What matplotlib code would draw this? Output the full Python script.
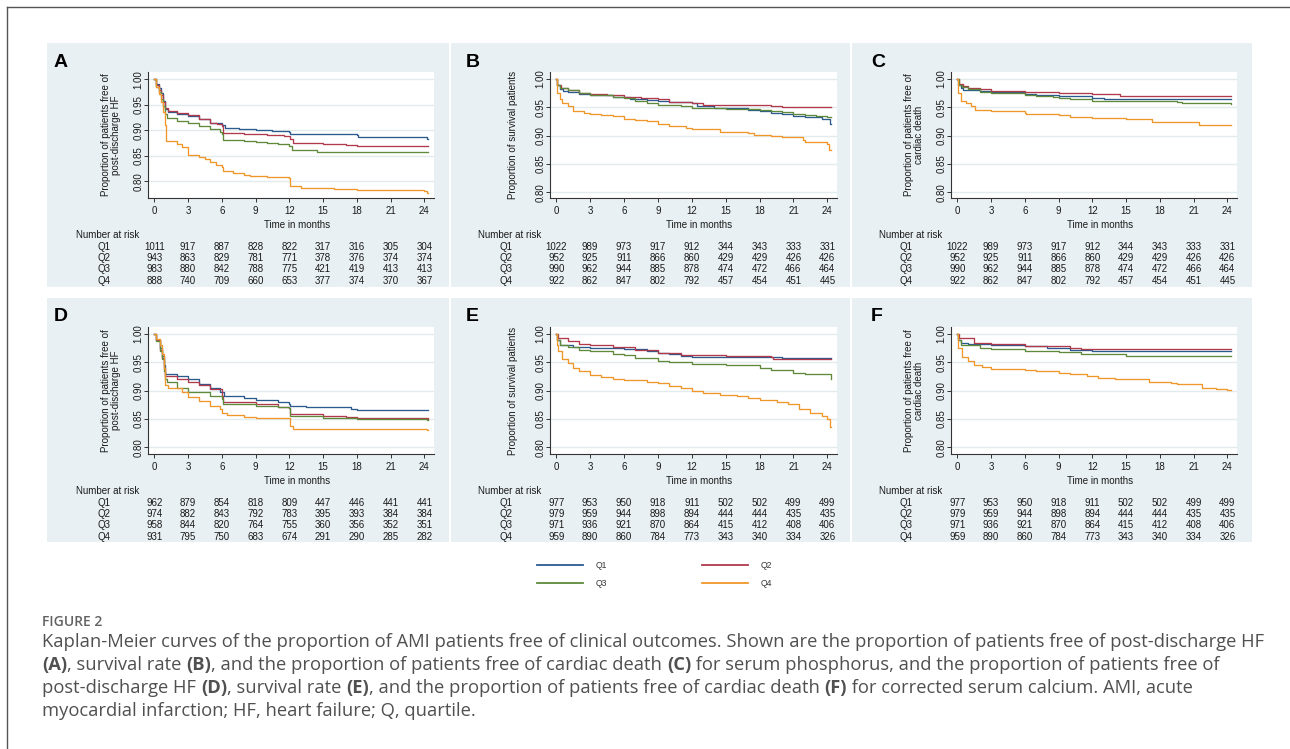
import matplotlib
matplotlib.use("Agg")
import matplotlib.pyplot as plt
from matplotlib import transforms as mtransforms, font_manager
from matplotlib.patches import Rectangle
from matplotlib.lines import Line2D

# ---------------- data ----------------
XTICKS = [0, 3, 6, 9, 12, 15, 18, 21, 24]
YTICKS = [0.80, 0.85, 0.90, 0.95, 1.00]
QUARTILES = ["Q1", "Q2", "Q3", "Q4"]
COLORS = ["#2b5a8e", "#b03a4c", "#5f8a3c", "#f0962a"]

# (months, proportion after step)
A_Q1 = [(0, 1.0), (0.2, 0.99), (0.4, 0.982), (0.6, 0.972), (0.8, 0.958), (1.0, 0.942), (1.2, 0.935), (2.0, 0.932),
        (3.0, 0.928), (4.0, 0.921), (5.0, 0.915), (6.0, 0.910), (6.3, 0.905), (7.5, 0.903), (9.0, 0.900),
        (10.5, 0.898), (12.0, 0.896), (12.1, 0.892), (18.0, 0.891), (18.1, 0.887), (24.0, 0.886), (24.2, 0.883),
        (24.3, 0.883)]
A_Q2 = [(0, 1.0), (0.2, 0.988), (0.4, 0.978), (0.6, 0.968), (0.8, 0.955), (1.0, 0.943), (1.2, 0.938), (2.0, 0.934),
        (3.0, 0.929), (4.0, 0.922), (5.0, 0.915), (5.6, 0.912), (6.0, 0.909), (6.1, 0.894), (8.0, 0.892),
        (10.0, 0.891), (11.5, 0.888), (12.1, 0.882), (12.3, 0.874), (15.0, 0.873), (17.0, 0.870), (18.0, 0.868),
        (24.3, 0.868)]
A_Q3 = [(0, 1.0), (0.2, 0.985), (0.4, 0.975), (0.6, 0.962), (0.8, 0.948), (1.0, 0.932), (1.1, 0.923), (2.0, 0.918),
        (3.0, 0.914), (4.0, 0.909), (5.0, 0.903), (5.8, 0.897), (6.0, 0.893), (6.1, 0.881), (8.0, 0.879),
        (9.0, 0.877), (10.0, 0.875), (11.0, 0.872), (12.0, 0.869), (12.2, 0.862), (14.5, 0.858), (24.3, 0.858)]
A_Q4 = [(0, 1.0), (0.2, 0.985), (0.4, 0.97), (0.6, 0.955), (0.8, 0.935), (0.95, 0.91), (1.05, 0.878), (2.0, 0.873),
        (2.5, 0.867), (3.0, 0.852), (4.0, 0.847), (4.5, 0.843), (5.0, 0.837), (5.5, 0.832), (6.0, 0.828),
        (6.1, 0.820), (7.0, 0.816), (8.0, 0.812), (8.5, 0.810), (10.0, 0.809), (11.0, 0.808), (12.0, 0.807),
        (12.1, 0.790), (13.0, 0.787), (15.0, 0.786), (16.0, 0.785), (18.0, 0.782), (24.0, 0.780), (24.2, 0.777),
        (24.3, 0.777)]

B_Q1 = [(0, 1.0), (0.1, 0.99), (0.3, 0.983), (0.6, 0.979), (1.0, 0.977), (2.0, 0.973), (3.0, 0.971), (5.0, 0.968),
        (6.5, 0.965), (8.0, 0.963), (9.0, 0.962), (10.0, 0.960), (12.0, 0.957), (12.5, 0.953), (14.0, 0.949),
        (15.0, 0.948), (17.0, 0.946), (18.0, 0.944), (19.0, 0.940), (20.0, 0.938), (21.0, 0.935), (22.0, 0.933),
        (23.5, 0.930), (24.2, 0.920), (24.3, 0.920)]
B_Q2 = [(0, 1.0), (0.1, 0.99), (0.4, 0.984), (1.0, 0.980), (2.0, 0.975), (3.0, 0.973), (4.5, 0.971), (6.0, 0.969),
        (7.5, 0.967), (9.0, 0.964), (10.0, 0.960), (12.0, 0.958), (13.0, 0.955), (17.0, 0.954), (19.0, 0.952),
        (20.0, 0.951), (21.0, 0.950), (24.3, 0.950)]
B_Q3 = [(0, 1.0), (0.1, 0.99), (0.3, 0.985), (1.0, 0.981), (2.0, 0.976), (3.0, 0.972), (5.0, 0.968), (6.0, 0.966),
        (7.0, 0.962), (8.0, 0.958), (9.0, 0.955), (10.0, 0.954), (11.0, 0.952), (12.0, 0.949), (15.0, 0.947),
        (18.0, 0.946), (19.0, 0.943), (20.0, 0.941), (21.0, 0.938), (22.0, 0.937), (23.0, 0.935), (24.0, 0.933),
        (24.3, 0.933)]
B_Q4 = [(0, 1.0), (0.1, 0.975), (0.3, 0.965), (0.5, 0.958), (1.0, 0.953), (1.5, 0.944), (2.5, 0.940), (3.0, 0.938),
        (4.0, 0.936), (5.0, 0.934), (6.0, 0.929), (7.0, 0.928), (8.0, 0.926), (9.0, 0.920), (10.0, 0.917),
        (11.5, 0.914), (12.0, 0.911), (14.5, 0.907), (17.0, 0.905), (17.5, 0.902), (19.0, 0.900), (20.0, 0.898),
        (21.0, 0.897), (21.8, 0.893), (22.0, 0.889), (23.5, 0.888), (24.0, 0.885), (24.1, 0.875), (24.3, 0.875)]

C_Q1 = [(0, 1.0), (0.1, 0.99), (0.3, 0.985), (0.5, 0.981), (2.0, 0.979), (3.0, 0.977), (6.0, 0.974), (7.0, 0.972),
        (9.0, 0.970), (12.0, 0.967), (13.0, 0.965), (24.3, 0.965)]
C_Q2 = [(0, 1.0), (0.2, 0.992), (0.5, 0.988), (1.0, 0.985), (2.0, 0.982), (3.0, 0.979), (4.0, 0.978), (6.0, 0.977),
        (9.0, 0.976), (10.0, 0.975), (12.0, 0.973), (14.5, 0.970), (24.3, 0.970)]
C_Q3 = [(0, 1.0), (0.2, 0.99), (0.4, 0.986), (1.0, 0.983), (2.0, 0.977), (3.0, 0.975), (6.0, 0.972), (7.0, 0.970),
        (8.5, 0.968), (9.0, 0.966), (10.0, 0.964), (12.0, 0.961), (19.5, 0.960), (20.0, 0.958), (24.0, 0.957),
        (24.3, 0.956)]
C_Q4 = [(0, 1.0), (0.1, 0.975), (0.3, 0.962), (0.8, 0.957), (1.2, 0.952), (1.6, 0.946), (3.0, 0.943), (6.0, 0.940),
        (6.1, 0.938), (9.0, 0.937), (10.0, 0.933), (12.0, 0.931), (15.0, 0.929), (17.3, 0.925), (21.0, 0.924),
        (21.5, 0.919), (24.3, 0.919)]

D_Q1 = [(0, 1.0), (0.2, 0.99), (0.5, 0.975), (0.7, 0.962), (0.9, 0.945), (1.0, 0.930), (2.0, 0.925), (3.0, 0.920),
        (4.0, 0.912), (5.0, 0.905), (5.8, 0.898), (6.2, 0.891), (8.0, 0.887), (9.0, 0.884), (11.0, 0.880),
        (12.0, 0.877), (12.1, 0.873), (13.5, 0.871), (17.5, 0.868), (18.0, 0.865), (24.3, 0.865)]
D_Q2 = [(0, 1.0), (0.2, 0.99), (0.5, 0.972), (0.7, 0.958), (0.9, 0.94), (1.0, 0.925), (2.0, 0.920), (3.0, 0.915),
        (4.0, 0.910), (5.0, 0.902), (6.0, 0.890), (6.1, 0.880), (9.0, 0.876), (11.0, 0.871), (12.0, 0.869),
        (12.1, 0.858), (15.0, 0.856), (17.0, 0.853), (18.0, 0.851), (24.3, 0.850)]
D_Q3 = [(0, 1.0), (0.2, 0.988), (0.5, 0.97), (0.7, 0.955), (0.9, 0.935), (1.0, 0.920), (1.1, 0.915), (2.0, 0.905),
        (3.0, 0.897), (5.0, 0.890), (6.0, 0.885), (6.1, 0.876), (9.0, 0.873), (11.0, 0.871), (12.0, 0.869),
        (12.1, 0.855), (15.0, 0.852), (18.0, 0.850), (24.0, 0.849), (24.2, 0.848), (24.3, 0.848)]
D_Q4 = [(0, 1.0), (0.2, 0.992), (0.5, 0.98), (0.7, 0.965), (0.9, 0.94), (1.0, 0.910), (1.2, 0.905), (2.5, 0.898),
        (3.0, 0.888), (4.0, 0.882), (5.0, 0.873), (5.8, 0.868), (6.0, 0.860), (6.5, 0.857), (8.0, 0.854),
        (9.0, 0.852), (12.0, 0.852), (12.1, 0.838), (12.3, 0.832), (24.0, 0.832), (24.2, 0.830), (24.3, 0.830)]

E_Q1 = [(0, 1.0), (0.1, 0.99), (0.3, 0.980), (1.5, 0.977), (3.0, 0.976), (6.0, 0.973), (8.0, 0.970), (9.0, 0.967),
        (10.0, 0.965), (11.0, 0.962), (12.0, 0.960), (19.0, 0.959), (20.0, 0.957), (24.3, 0.957)]
E_Q2 = [(0, 1.0), (0.2, 0.993), (1.0, 0.987), (2.0, 0.983), (3.0, 0.981), (5.0, 0.977), (7.0, 0.972), (9.0, 0.967),
        (11.0, 0.963), (15.0, 0.961), (19.0, 0.959), (19.2, 0.955), (24.3, 0.955)]
E_Q3 = [(0, 1.0), (0.1, 0.99), (0.3, 0.980), (1.0, 0.977), (2.0, 0.972), (3.0, 0.970), (5.0, 0.965), (6.0, 0.963),
        (7.0, 0.958), (9.0, 0.953), (10.0, 0.951), (12.0, 0.947), (15.0, 0.945), (18.0, 0.940), (19.0, 0.937),
        (20.0, 0.936), (21.0, 0.932), (22.0, 0.929), (24.2, 0.929), (24.3, 0.920)]
E_Q4 = [(0, 1.0), (0.1, 0.98), (0.2, 0.97), (0.5, 0.955), (1.0, 0.948), (1.5, 0.940), (2.0, 0.935), (3.0, 0.928),
        (4.0, 0.924), (5.0, 0.920), (6.0, 0.918), (8.0, 0.916), (9.0, 0.913), (10.0, 0.909), (11.0, 0.905),
        (12.0, 0.900), (13.0, 0.896), (14.5, 0.892), (16.0, 0.890), (17.0, 0.887), (18.0, 0.883), (19.5, 0.880),
        (20.5, 0.876), (21.5, 0.868), (22.5, 0.860), (23.5, 0.855), (24.0, 0.850), (24.2, 0.835), (24.3, 0.835)]

F_Q1 = [(0, 1.0), (0.1, 0.99), (0.3, 0.985), (1.0, 0.982), (3.0, 0.980), (6.0, 0.978), (8.0, 0.976), (10.0, 0.972),
        (12.0, 0.970), (24.3, 0.970)]
F_Q2 = [(0, 1.0), (0.2, 0.993), (1.5, 0.985), (3.0, 0.982), (6.0, 0.979), (9.0, 0.978), (10.0, 0.975), (11.0, 0.973),
        (24.3, 0.973)]
F_Q3 = [(0, 1.0), (0.1, 0.99), (0.3, 0.980), (2.0, 0.976), (3.0, 0.973), (6.0, 0.970), (9.0, 0.968), (11.0, 0.965),
        (12.0, 0.964), (15.0, 0.962), (24.3, 0.962)]
F_Q4 = [(0, 1.0), (0.1, 0.975), (0.4, 0.960), (1.0, 0.952), (1.5, 0.946), (2.2, 0.941), (3.0, 0.939), (6.0, 0.937),
        (7.0, 0.935), (9.0, 0.932), (10.0, 0.929), (11.5, 0.926), (12.5, 0.923), (14.0, 0.921), (16.0, 0.920),
        (17.0, 0.915), (19.0, 0.914), (19.5, 0.912), (21.0, 0.911), (21.7, 0.905), (23.0, 0.903), (24.0, 0.901),
        (24.3, 0.901)]

# numbers at risk (rows Q1..Q4, columns at XTICKS)
A_RISK = [[1011, 917, 887, 828, 822, 317, 316, 305, 304],
          [943, 863, 829, 781, 771, 378, 376, 374, 374],
          [983, 880, 842, 788, 775, 421, 419, 413, 413],
          [888, 740, 709, 660, 653, 377, 374, 370, 367]]
B_RISK = [[1022, 989, 973, 917, 912, 344, 343, 333, 331],
          [952, 925, 911, 866, 860, 429, 429, 426, 426],
          [990, 962, 944, 885, 878, 474, 472, 466, 464],
          [922, 862, 847, 802, 792, 457, 454, 451, 445]]
C_RISK = [[1022, 989, 973, 917, 912, 344, 343, 333, 331],
          [952, 925, 911, 866, 860, 429, 429, 426, 426],
          [990, 962, 944, 885, 878, 474, 472, 466, 464],
          [922, 862, 847, 802, 792, 457, 454, 451, 445]]
D_RISK = [[962, 879, 854, 818, 809, 447, 446, 441, 441],
          [974, 882, 843, 792, 783, 395, 393, 384, 384],
          [958, 844, 820, 764, 755, 360, 356, 352, 351],
          [931, 795, 750, 683, 674, 291, 290, 285, 282]]
E_RISK = [[977, 953, 950, 918, 911, 502, 502, 499, 499],
          [979, 959, 944, 898, 894, 444, 444, 435, 435],
          [971, 936, 921, 870, 864, 415, 412, 408, 406],
          [959, 890, 860, 784, 773, 343, 340, 334, 326]]
F_RISK = E_RISK

YLAB_HF = "Proportion of patients free of\npost-discharge HF"
YLAB_SURV = "Proportion of survival patients"
YLAB_CD = "Proportion of patients free of\ncardiac death"
XLAB = "Time in months"
RISK_TITLE = "Number at risk"

CAPTION_HEAD = "FIGURE 2"
CAPTION_LINES = [
    [("Kaplan-Meier curves of the proportion of AMI patients free of clinical outcomes. Shown are the proportion of patients free of post-discharge HF", False)],
    [("(A)", True), (", survival rate ", False), ("(B)", True),
     (", and the proportion of patients free of cardiac death ", False), ("(C)", True),
     (" for serum phosphorus, and the proportion of patients free of", False)],
    [("post-discharge HF ", False), ("(D)", True), (", survival rate ", False), ("(E)", True),
     (", and the proportion of patients free of cardiac death ", False), ("(F)", True),
     (" for corrected serum calcium. AMI, acute", False)],
    [("myocardial infarction; HF, heart failure; Q, quartile.", False)],
]

# ---------------- layout ----------------
W, H = 1290, 749
fig = plt.figure(figsize=(W / 100, H / 100), dpi=100)
fig.patch.set_facecolor("white")
T = mtransforms.Affine2D().scale(1 / W, -1 / H).translate(0, 1) + fig.transFigure

names = {f.name for f in font_manager.fontManager.ttflist}
if "Liberation Sans Narrow" in names:
    CHART_FONT, FS = "Liberation Sans Narrow", 8.0
else:
    CHART_FONT, FS = "Liberation Sans", 7.0
CAP_FONT = "Open Sans" if "Open Sans" in names else "DejaVu Sans"
TXT = "#1a1a1a"

BG = "#e9f0f3"
COL_AX = [(148, 434), (550, 837), (951, 1237)]
ROW_AX = [(72, 198), (327, 454)]
COL_BG = [(47, 449), (451, 850), (852, 1252)]
ROW_BG = [(43, 287), (298, 542)]
LABEL_X = [54, 466, 871]
LABEL_BASE = [67, 321]

panels = [
    ("A", [A_Q1, A_Q2, A_Q3, A_Q4], A_RISK, YLAB_HF, (0.767, 1.014), 0, 0),
    ("B", [B_Q1, B_Q2, B_Q3, B_Q4], B_RISK, YLAB_SURV, (0.790, 1.0124), 0, 1),
    ("C", [C_Q1, C_Q2, C_Q3, C_Q4], C_RISK, YLAB_CD, (0.790, 1.0124), 0, 2),
    ("D", [D_Q1, D_Q2, D_Q3, D_Q4], D_RISK, YLAB_HF, (0.788, 1.0124), 1, 0),
    ("E", [E_Q1, E_Q2, E_Q3, E_Q4], E_RISK, YLAB_SURV, (0.788, 1.0124), 1, 1),
    ("F", [F_Q1, F_Q2, F_Q3, F_Q4], F_RISK, YLAB_CD, (0.788, 1.0124), 1, 2),
]

# outer frame
fig.add_artist(Line2D([7, 7], [7, 760], transform=T, color="#555555", lw=1.0))
fig.add_artist(Line2D([7, 1300], [7, 7], transform=T, color="#555555", lw=1.0))

for letter, curves, risk, ylab, ylim, r, c in panels:
    bx0, bx1 = COL_BG[c]
    by0, by1 = ROW_BG[r]
    fig.add_artist(Rectangle((bx0, by0), bx1 - bx0, by1 - by0, transform=T,
                             facecolor=BG, edgecolor="none", zorder=-5))
    xl, xr = COL_AX[c]
    yt, yb = ROW_AX[r]
    ax = fig.add_axes([xl / W, 1 - yb / H, (xr - xl) / W, (yb - yt) / H])
    ax.set_facecolor("white")
    for s in ("top", "right"):
        ax.spines[s].set_visible(False)
    for s in ("left", "bottom"):
        ax.spines[s].set_color("#333333")
        ax.spines[s].set_linewidth(0.8)
    ax.set_xlim(-0.55, 24.85)
    ax.set_ylim(*ylim)
    ax.set_xticks(XTICKS)
    ax.set_xticklabels([str(v) for v in XTICKS], fontfamily=CHART_FONT)
    ax.set_yticks(YTICKS)
    ax.set_yticklabels([f"{v:.2f}" for v in YTICKS], rotation=90, va="center",
                       fontfamily=CHART_FONT)
    ax.tick_params(axis="both", length=2.9, width=0.7, color="#333333",
                   labelsize=FS, labelcolor=TXT, direction="out")
    ax.tick_params(axis="y", pad=0.3)
    ax.tick_params(axis="x", pad=3.0)
    ax.yaxis.grid(True, color="#e2ebee", lw=1.0)
    ax.set_axisbelow(True)

    for pts, col in zip(curves, COLORS):
        t = [p[0] for p in pts]
        v = [p[1] for p in pts]
        ax.step(t, v, where="post", color=col, lw=0.95)

    # panel letter
    fig.text(LABEL_X[c], LABEL_BASE[r], letter, transform=T, ha="left", va="baseline",
             fontsize=14, fontweight="bold", fontfamily="Liberation Sans", color="black")
    # y label
    fig.text(xl - 37, (yt + yb) / 2, ylab, transform=T, rotation=90, ha="center", va="center",
             multialignment="center", linespacing=1.0, fontsize=FS, fontfamily=CHART_FONT, color=TXT)
    # x label
    fig.text((xl + xr) / 2 + 6, yb + 29.5, XLAB, transform=T, ha="center", va="baseline",
             fontsize=FS, fontfamily=CHART_FONT, color=TXT)
    # risk table
    fig.text(xl - 72, yb + 40, RISK_TITLE, transform=T, ha="left", va="baseline",
             fontsize=FS, fontfamily=CHART_FONT, color=TXT)
    bt = mtransforms.blended_transform_factory(ax.transData, T)
    for qi, (qname, row) in enumerate(zip(QUARTILES, risk)):
        yy = yb + [51.5, 63.0, 74.5, 86.0][qi]
        fig.text(xl - 38, yy, qname, transform=T, ha="right", va="baseline",
                 fontsize=FS, fontfamily=CHART_FONT, color=TXT)
        for xv, n in zip(XTICKS, row):
            ax.text(xv, yy, str(n), transform=bt, ha="center", va="baseline", clip_on=False,
                    fontsize=FS, fontfamily=CHART_FONT, color=TXT)

# legend
LEG_POS = [(537, 565), (702, 565), (537, 583), (702, 583)]
for (lx, ly), q, col in zip(LEG_POS, QUARTILES, COLORS):
    fig.add_artist(Line2D([lx, lx + 46], [ly, ly], transform=T, color=col, lw=1.3))
    fig.text(lx + 59, ly + 3, q, transform=T, ha="left", va="baseline",
             fontsize=FS - 0.8, fontfamily=CHART_FONT, color="#333333")

# caption
renderer = fig.canvas.get_renderer()


def seg_width(s, **kw):
    t1 = fig.text(0, 0, "|" + s + "|", **kw)
    w1 = t1.get_window_extent(renderer).width
    t1.remove()
    t2 = fig.text(0, 0, "||", **kw)
    w2 = t2.get_window_extent(renderer).width
    t2.remove()
    return w1 - w2


base_kw = dict(fontfamily=CAP_FONT, fontsize=11)
w_line1 = seg_width(CAPTION_LINES[0][0][0], **base_kw)
cap_fs = 11 * 1222 / w_line1
CAP_COLOR = "#505050"

fig.text(42, 626, CAPTION_HEAD, transform=T, ha="left", va="baseline",
         fontsize=10, fontweight="semibold", fontfamily=CAP_FONT, color="#626262")

CAP_BASES = [647, 670, 693, 716]
for base, segs in zip(CAP_BASES, CAPTION_LINES):
    x = 42.0
    for s, bold in segs:
        kw = dict(fontfamily=CAP_FONT, fontsize=cap_fs, fontweight="bold" if bold else "normal")
        fig.text(x, base, s, transform=T, ha="left", va="baseline", color=CAP_COLOR, **kw)
        x += seg_width(s, **kw)

fig.savefig("out.png", dpi=100, facecolor="white")
